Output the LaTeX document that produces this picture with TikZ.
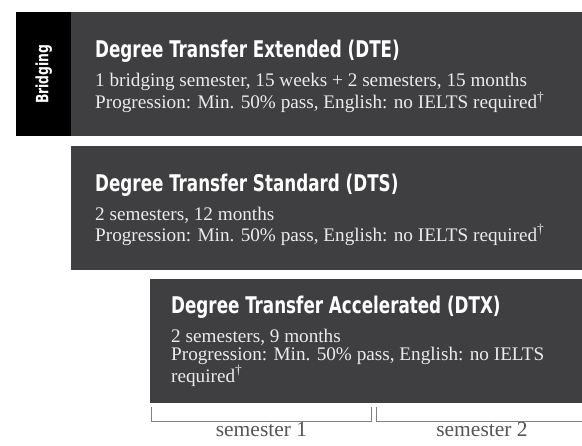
\documentclass[tikz,border=0pt]{standalone}
\usepackage{fontspec}
\setmainfont{Liberation Serif}
\newfontfamily\titlefont[FakeStretch=0.81]{DejaVu Sans Condensed Bold}
\usetikzlibrary{positioning}
\definecolor{BoxGrey}{HTML}{3F3F41}
\definecolor{RuleGrey}{HTML}{808080}
\definecolor{LabelGrey}{HTML}{555555}
\tikzset{
	box/.style={fill=BoxGrey,anchor=north west,inner sep=0pt,minimum height=124pt,minimum width=#1},
	tab/.style={fill=black,anchor=north west,inner sep=0pt,minimum height=124pt,minimum width=55pt},
	title/.style={anchor=base west,inner sep=0pt,text=white,font=\titlefont\fontsize{23}{23}\selectfont},
	body/.style={inner sep=0pt,align=left,text=white!92!black,font=\fontsize{19.2}{17.8}\selectfont},
	bracket/.style={draw=RuleGrey,line width=1pt},
	semlabel/.style={anchor=base,inner sep=0pt,text=LabelGrey,font=\fontsize{21.5}{22}\selectfont}
}

\begin{document}
\begin{tikzpicture}[x=1pt,y=-1pt]
	\useasboundingbox (0,0) rectangle (582,446);
	% bridging programme
	\node[tab] (tab) at (16,12) {};
	\node[rotate=90,text=white,inner sep=0pt,font=\titlefont\fontsize{17}{17}\selectfont] (bridge) at (tab.center) {Bridging};
	\node[box=511pt] (DTE) at (71,12) {};
	\node[title] (DTEt) at (95,58) {Degree Transfer Extended (DTE)};
	\node[body,below right=10pt and 0pt of DTEt.south west] (DTEb) {1 bridging semester, 15 weeks + 2 semesters, 15 months\\Progression: Min. 50\% pass, English: no IELTS required\textsuperscript{†}};
	% standard
	\node[box=511pt] (DTS) at (71,146) {};
	\node[title] (DTSt) at (95,192) {Degree Transfer Standard (DTS)};
	\node[body,below right=10pt and 0pt of DTSt.south west] (DTSb) {2 semesters, 12 months\\Progression: Min. 50\% pass, English: no IELTS required\textsuperscript{†}};
	% accelerated
	\node[box=432pt] (DTX) at (150,279) {};
	\node[title] (DTXt) at (171,314) {Degree Transfer Accelerated (DTX)};
	\node[body,below right=10pt and 0pt of DTXt.south west] (DTXb) {2 semesters, 9 months\\Progression: Min. 50\% pass, English: no IELTS\\required\textsuperscript{†}};
	% semesters
	\coordinate (S1a) at (151.5,407);
	\coordinate (S1b) at (371.5,407);
	\coordinate (S2a) at (376.5,407);
	\coordinate (S2b) at (590,422);
	\draw[bracket] (S1a) -- ++(0,15) -| (S1b);
	\draw[bracket] (S2a) |- (S2b);
	\node[semlabel] (sem1) at (261.5,437) {semester 1};
	\node[semlabel] (sem2) at (482,437) {semester 2};
\end{tikzpicture}
\end{document}
